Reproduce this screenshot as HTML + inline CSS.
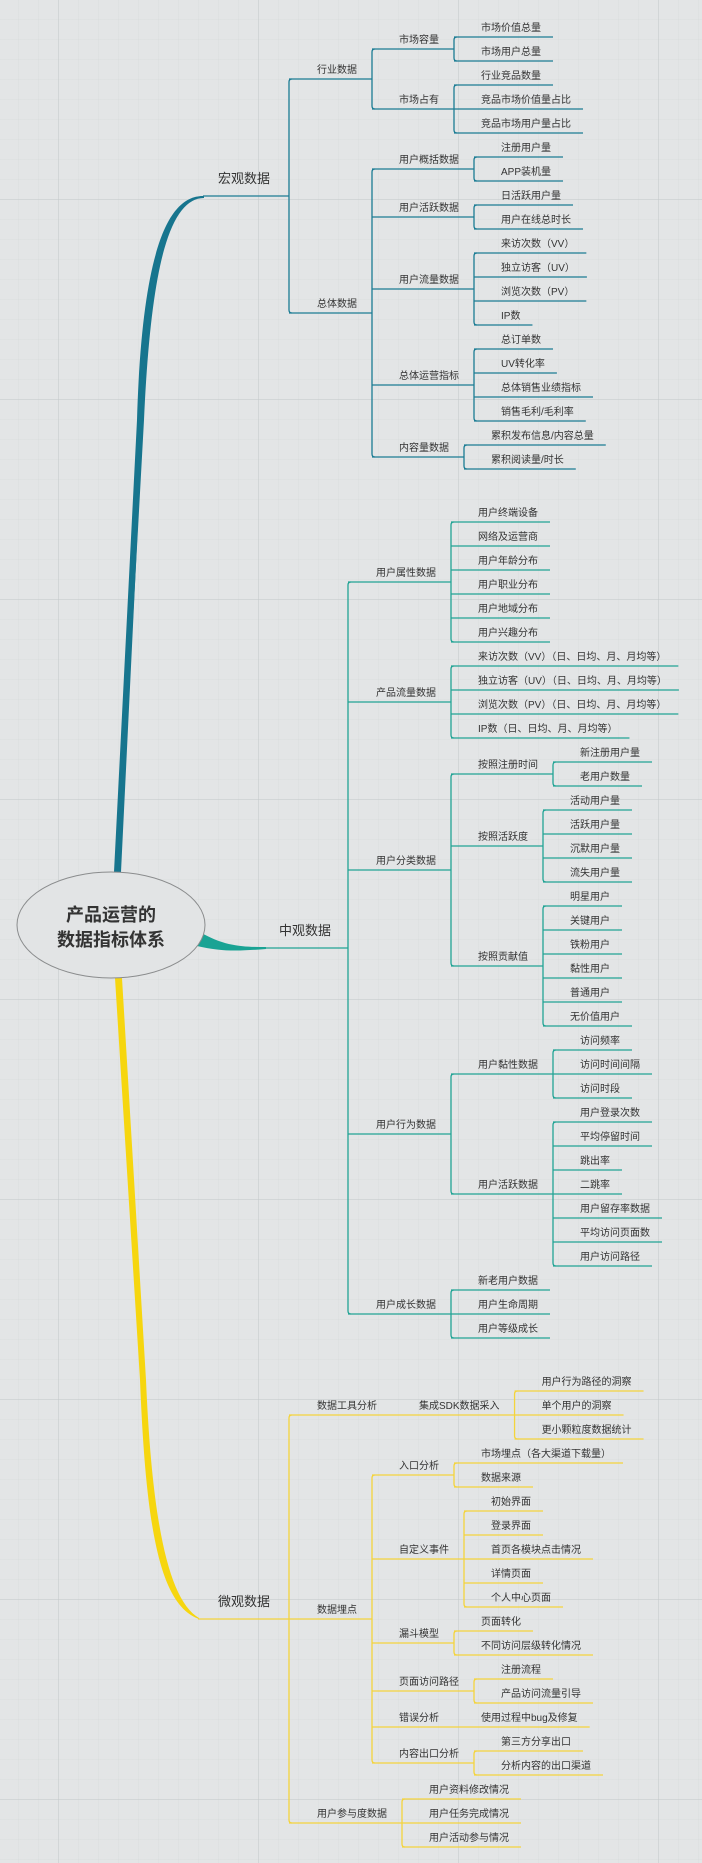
<!DOCTYPE html>
<html><head><meta charset="utf-8">
<style>
html,body{margin:0;padding:0;}
body{width:702px;height:1863px;overflow:hidden;background-color:#e3e5e6;
background-image:
linear-gradient(to right, rgba(196,200,202,.45) 1px, transparent 1px),
linear-gradient(to bottom, rgba(196,200,202,.45) 1px, transparent 1px),
linear-gradient(to right, rgba(210,213,215,.25) 1px, transparent 1px),
linear-gradient(to bottom, rgba(210,213,215,.25) 1px, transparent 1px);
background-size:200px 200px,200px 200px,20px 20px,20px 20px;
background-position:58px 0,0 199px,18px 0,0 19px;}
svg{position:absolute;left:0;top:0;}
text{font-family:"Liberation Sans","Noto Sans CJK SC",sans-serif;fill:#333;}
</style></head>
<body>
<svg id="s" width="702" height="1863" viewBox="0 0 702 1863" xmlns="http://www.w3.org/2000/svg">
<path d="M204,197 C170,197 150,260 143,420 L121,872 L114,872 L137,420 C142,250 168,195 204,196 Z" fill="#17758e"/>
<path d="M204,197 C170,197 150,260 143,420 L118,874" fill="none" stroke="#17758e" stroke-width="2"/>
<path d="M200,932 C225,947 245,947 266,947 L266,949 C240,951 222,952 197,946 Z" fill="#1aa394"/>
<path d="M115,978 L122,978 L146,1380 C152,1520 168,1600 199,1618 L199,1619 C160,1605 146,1530 140,1380 Z" fill="#f6d60f"/>
<ellipse cx="111" cy="925" rx="94" ry="53" fill="#e2e4e5" stroke="#8a8c8d" stroke-width="1"/>
<text x="111" y="921" font-size="18" font-weight="bold" text-anchor="middle" fill="#3a3a3a">产品运营的</text>
<text x="111" y="946" font-size="18" font-weight="bold" text-anchor="middle" fill="#3a3a3a">数据指标体系</text>
<g id="g"></g>
</svg>
<script>
var NS="http://www.w3.org/2000/svg";var G=document.getElementById('g');
function mk(t,a,txt){var e=document.createElementNS(NS,t);for(var k in a)e.setAttribute(k,a[k]);if(txt)e.textContent=txt;G.appendChild(e);return e;}
function conv(a){if(typeof a==='string')return {t:a};return {t:a[0],c:a[1].map(conv)};}
var cur;
function assign(n){if(!n.c){n.y=cur;cur+=24;}else{n.c.forEach(assign);n.y=(n.c[0].y+n.c[n.c.length-1].y)/2;}}
function est(s,fs){var w=0;for(var i=0;i<s.length;i++){w+=s.charCodeAt(i)>255?fs:fs*0.58;}return w;}
function txt(s,x,y,fs){var e=mk('text',{x:x,y:y,'font-size':fs},s);var w;try{w=e.getComputedTextLength();}catch(z){w=0;}if(!w)w=est(s,fs);return w;}
function vert(vx,y1,y2,col){if(y2-y1<1)return;var r=3;mk('path',{d:'M'+(vx+r)+','+y1+' Q'+vx+','+y1+' '+vx+','+(y1+r)+' L'+vx+','+(y2-r)+' Q'+vx+','+y2+' '+(vx+r)+','+y2,fill:'none',stroke:col,'stroke-width':1.3});}
function line(x1,x2,y,col){mk('line',{x1:x1,y1:y,x2:x2,y2:y,stroke:col,'stroke-width':1.3});}
function draw(n,sx,tx,col){var w=txt(n.t,tx,n.y-6,10);
 if(!n.c){line(sx,tx+w+12,n.y,col);return;}
 var vx=tx+w+15;line(sx,vx,n.y,col);vert(vx,n.c[0].y,n.c[n.c.length-1].y,col);
 n.c.forEach(function(c){draw(c,vx,vx+27,col);});}
function sec(data,start,tx,sx,vx,col){var n=conv(data);cur=start;assign(n);
 txt(n.t,tx,n.y-13,13);line(sx,vx,n.y,col);vert(vx,n.c[0].y,n.c[n.c.length-1].y,col);
 n.c.forEach(function(c){draw(c,vx,vx+28,col);});}
var macro=['宏观数据',[
 ['行业数据',[['市场容量',['市场价值总量','市场用户总量']],['市场占有',['行业竞品数量','竞品市场价值量占比','竞品市场用户量占比']]]],
 ['总体数据',[['用户概括数据',['注册用户量','APP装机量']],['用户活跃数据',['日活跃用户量','用户在线总时长']],['用户流量数据',['来访次数（VV）','独立访客（UV）','浏览次数（PV）','IP数']],['总体运营指标',['总订单数','UV转化率','总体销售业绩指标','销售毛利/毛利率']],['内容量数据',['累积发布信息/内容总量','累积阅读量/时长']]]]]];
var mid=['中观数据',[
 ['用户属性数据',['用户终端设备','网络及运营商','用户年龄分布','用户职业分布','用户地域分布','用户兴趣分布']],
 ['产品流量数据',['来访次数（VV）（日、日均、月、月均等）','独立访客（UV）（日、日均、月、月均等）','浏览次数（PV）（日、日均、月、月均等）','IP数（日、日均、月、月均等）']],
 ['用户分类数据',[['按照注册时间',['新注册用户量','老用户数量']],['按照活跃度',['活动用户量','活跃用户量','沉默用户量','流失用户量']],['按照贡献值',['明星用户','关键用户','铁粉用户','黏性用户','普通用户','无价值用户']]]],
 ['用户行为数据',[['用户黏性数据',['访问频率','访问时间间隔','访问时段']],['用户活跃数据',['用户登录次数','平均停留时间','跳出率','二跳率','用户留存率数据','平均访问页面数','用户访问路径']]]],
 ['用户成长数据',['新老用户数据','用户生命周期','用户等级成长']]]];
var micro=['微观数据',[
 ['数据工具分析',[['集成SDK数据采入',['用户行为路径的洞察','单个用户的洞察','更小颗粒度数据统计']]]],
 ['数据埋点',[['入口分析',['市场埋点（各大渠道下载量）','数据来源']],['自定义事件',['初始界面','登录界面','首页各模块点击情况','详情页面','个人中心页面']],['漏斗模型',['页面转化','不同访问层级转化情况']],['页面访问路径',['注册流程','产品访问流量引导']],['错误分析',['使用过程中bug及修复']],['内容出口分析',['第三方分享出口','分析内容的出口渠道']]]],
 ['用户参与度数据',['用户资料修改情况','用户任务完成情况','用户活动参与情况']]]];
sec(macro,37,218,203,289,'#1b7c94');
sec(mid,522,279,265,348,'#22a495');
sec(micro,1391,218,198,289,'#f4d43c');
</script>
</body></html>
